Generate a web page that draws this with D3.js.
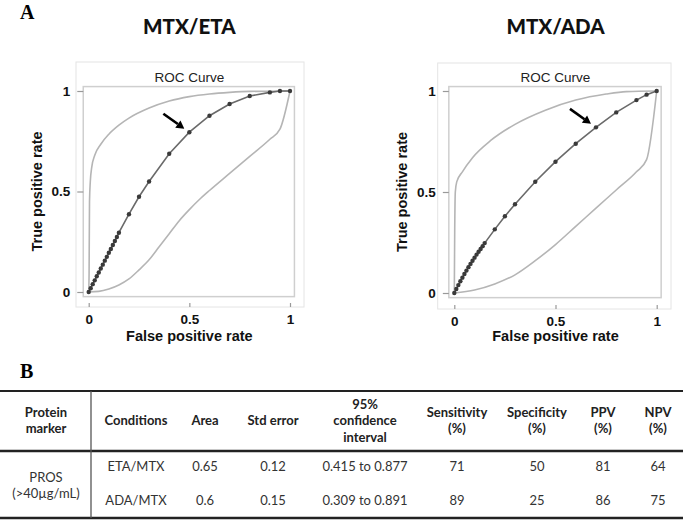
<!DOCTYPE html>
<html><head><meta charset="utf-8">
<script src="https://cdn.jsdelivr.net/npm/d3@7"></script>
<style>body{margin:0;background:#fff}svg{display:block}</style>
</head><body><svg id="c" width="685" height="520"></svg>
<script>
// ---------- DATA ----------
const etaFpr = [0,0.01,0.02,0.03,0.04,0.05,0.06,0.07,0.08,0.09,0.10,0.11,0.12,0.13,0.14,0.15,0.2,0.25,0.3,0.4,0.5,0.6,0.7,0.8,0.9,0.95,1];
const etaTpr = [0,0.019,0.039,0.058,0.078,0.097,0.117,0.136,0.156,0.175,0.195,0.214,0.234,0.254,0.274,0.295,0.387,0.474,0.55,0.688,0.795,0.877,0.935,0.975,0.993,1,1];
const etaUpperX = [0,0.002,0.004,0.008,0.015,0.03,0.06,0.1,0.15,0.2,0.3,0.4,0.5,0.6,0.7,0.8,1];
const etaUpperY = [0,0.1,0.45,0.55,0.62,0.68,0.735,0.785,0.83,0.865,0.915,0.95,0.972,0.985,0.993,0.998,1];
const etaLowerX = [0,0.05,0.1,0.15,0.2,0.25,0.3,0.35,0.4,0.45,0.5,0.55,0.6,0.7,0.8,0.9,0.95,1];
const etaLowerY = [0,0.003,0.015,0.035,0.065,0.11,0.16,0.225,0.29,0.355,0.41,0.46,0.505,0.59,0.675,0.76,0.81,1];
const etaCutoff = 0.5;

const adaFpr = [0,0.01,0.02,0.03,0.04,0.05,0.06,0.07,0.08,0.09,0.10,0.11,0.12,0.13,0.14,0.15,0.2,0.25,0.3,0.4,0.5,0.6,0.7,0.8,0.9,0.95,1];
const adaTpr = [0,0.020,0.039,0.058,0.076,0.094,0.111,0.128,0.144,0.160,0.175,0.190,0.204,0.218,0.232,0.247,0.315,0.38,0.439,0.551,0.65,0.739,0.82,0.894,0.955,0.982,1];
const adaUpperX = [0,0.002,0.005,0.012,0.04,0.09,0.18,0.3,0.45,0.6,0.75,0.85,1];
const adaUpperY = [0,0.3,0.5,0.55,0.6,0.67,0.755,0.835,0.905,0.955,0.985,0.997,1];
const adaLowerX = [0,0.1,0.2,0.3,0.4,0.5,0.6,0.7,0.8,0.9,0.95,1];
const adaLowerY = [0,0.015,0.045,0.09,0.16,0.24,0.33,0.42,0.51,0.6,0.66,1];
const adaCutoff = 0.7;

const axisTicks = [0, 0.5, 1];
const axisTickLabels = ["0", "0.5", "1"];

const headerLines = [["Protein","marker"],["Conditions"],["Area"],["Std error"],["95%","confidence","interval"],["Sensitivity","(%)"],["Specificity","(%)"],["PPV","(%)"],["NPV","(%)"]];
const markerLabel = ["PROS","(>40\u00B5g/mL)"];
const conditions = ["ETA/MTX","ADA/MTX"];
const areaVals = ["0.65","0.6"];
const stdErrVals = ["0.12","0.15"];
const ciVals = ["0.415 to 0.877","0.309 to 0.891"];
const sensVals = ["71","89"];
const specVals = ["50","25"];
const ppvVals = ["81","86"];
const npvVals = ["64","75"];

// ---------- DRAW ----------
const svg = d3.select("#c");
svg.append("rect").attr("width",685).attr("height",520).attr("fill","#fff");

const arial = "Arial, 'Liberation Sans', sans-serif";
const cal = "Lato, 'Open Sans', sans-serif";

svg.append("text").attr("x",20).attr("y",18.5).text("A")
  .attr("font-family","'Liberation Serif', 'Times New Roman', serif").attr("font-weight","bold").attr("font-size",20);

function panel(cfg){
  const x = d3.scaleLinear().domain([0,1]).range(cfg.xr);
  const y = d3.scaleLinear().domain([0,1]).range(cfg.yr);
  const g = svg.append("g");
  const cx = (cfg.xr[0]+cfg.xr[1])/2;
  g.append("text").attr("x",cx).attr("y",34).attr("text-anchor","middle")
    .attr("font-family",cal).attr("font-weight",900).attr("font-size",20.5).attr("fill","#111").text(cfg.title);
  g.append("rect").attr("x",cfg.outer[0]).attr("y",cfg.outer[1]).attr("width",cfg.outer[2]-cfg.outer[0]).attr("height",cfg.outer[3]-cfg.outer[1])
    .attr("fill","none").attr("stroke","#e4e4e4").attr("stroke-width",1);
  g.append("rect").attr("x",x(-0.027)).attr("y",y(1.022)).attr("width",x(1.022)-x(-0.027)).attr("height",y(-0.023)-y(1.022))
    .attr("fill","none").attr("stroke","#cfcfcf").attr("stroke-width",1.5);
  g.append("text").attr("x",cx).attr("y",81.5).attr("text-anchor","middle")
    .attr("font-family",arial).attr("font-size",13.5).attr("fill","#222").text("ROC Curve");
  const fmt = (d,i)=>axisTickLabels[i];
  const ay = g.append("g").attr("transform",`translate(${x(-0.027)},0)`)
    .call(d3.axisLeft(y).tickValues(axisTicks).tickFormat(fmt).tickSize(6).tickPadding(7));
  const ax = g.append("g").attr("transform",`translate(0,${cfg.outer[3]-4})`)
    .call(d3.axisBottom(x).tickValues(axisTicks).tickFormat(fmt).tickSize(4).tickPadding(7));
  [ax,ay].forEach(a=>{
    a.select(".domain").remove();
    a.selectAll("line").attr("stroke","#999").attr("stroke-width",1.2);
    a.selectAll("text").attr("font-family",arial).attr("font-weight","bold").attr("font-size",13.5).attr("fill","#111");
  });
  g.append("text").attr("x",cx).attr("y",341).attr("text-anchor","middle")
    .attr("font-family",arial).attr("font-weight","bold").attr("font-size",14.5).attr("fill","#111").text("False positive rate");
  g.append("text").attr("transform",`translate(${cfg.ytitleX},${y(0.5)}) rotate(-90)`).attr("text-anchor","middle")
    .attr("font-family",arial).attr("font-weight","bold").attr("font-size",14.5).attr("fill","#111").text("True positive rate");
  const band = d3.line().x(d=>x(d[0])).y(d=>y(d[1])).curve(d3.curveMonotoneX);
  g.append("path").attr("d",band(cfg.ux.map((v,i)=>[v,cfg.uy[i]]))).attr("fill","none").attr("stroke","#b5b5b5").attr("stroke-width",1.6);
  g.append("path").attr("d",band(cfg.lx.map((v,i)=>[v,cfg.ly[i]]))).attr("fill","none").attr("stroke","#b5b5b5").attr("stroke-width",1.6);
  const pts = cfg.fpr.map((v,i)=>[v,cfg.tpr[i]]);
  g.append("path").attr("d",d3.line().x(d=>x(d[0])).y(d=>y(d[1]))(pts)).attr("fill","none").attr("stroke","#6a6a6a").attr("stroke-width",1.6);
  g.selectAll("circle.p").data(pts).join("circle").attr("cx",d=>x(d[0])).attr("cy",d=>y(d[1])).attr("r",2.2).attr("fill","#3a3a3a");
  const ci = cfg.fpr.indexOf(cfg.cutoff);
  const hx = x(cfg.fpr[ci]) - 5, hy = y(cfg.tpr[ci]) - 3.5;
  const tx = hx - 21, ty = hy - 15;
  const ang = Math.atan2(hy-ty, hx-tx);
  const L = 8, W = 4.5;
  const bx = hx - L*Math.cos(ang), by = hy - L*Math.sin(ang);
  g.append("line").attr("x1",tx).attr("y1",ty).attr("x2",bx).attr("y2",by).attr("stroke","#000").attr("stroke-width",2.6);
  g.append("path").attr("d",`M${hx},${hy}L${bx - W*Math.sin(ang)},${by + W*Math.cos(ang)}L${bx + W*Math.sin(ang)},${by - W*Math.cos(ang)}Z`).attr("fill","#000");
}

panel({title:"MTX/ETA", xr:[88.7,290], yr:[292,91], outer:[76,62,304,307], ytitleX:42,
  fpr:etaFpr, tpr:etaTpr, ux:etaUpperX, uy:etaUpperY, lx:etaLowerX, ly:etaLowerY, cutoff:etaCutoff});
panel({title:"MTX/ADA", xr:[454.3,656.7], yr:[293,91], outer:[437.7,63,671,309], ytitleX:407,
  fpr:adaFpr, tpr:adaTpr, ux:adaUpperX, uy:adaUpperY, lx:adaLowerX, ly:adaLowerY, cutoff:adaCutoff});

// ---------- TABLE ----------
svg.append("text").attr("x",20).attr("y",378).text("B")
  .attr("font-family","'Liberation Serif', 'Times New Roman', serif").attr("font-weight","bold").attr("font-size",20);

const colX = [46,136,205,273,365,457,537,603,658];
const t = svg.append("g").attr("font-family",cal).attr("font-size",13).attr("fill","#222");
const headMid = 420.5, lh = 16.5;
headerLines.forEach((lines,c)=>{
  const y0 = headMid - (lines.length-1)*lh/2;
  lines.forEach((s,k)=>{
    t.append("text").attr("x",colX[c]).attr("y",y0+k*lh).attr("dy","0.35em").attr("text-anchor","middle")
      .attr("font-weight","bold").text(s);
  });
});
const rowY = [466,500.7];
markerLabel.forEach((s,k)=>{
  t.append("text").attr("x",colX[0]).attr("y",477+k*16.5).attr("dy","0.35em").attr("text-anchor","middle").attr("fill","#333").text(s);
});
const cols = [conditions, areaVals, stdErrVals, ciVals, sensVals, specVals, ppvVals, npvVals];
cols.forEach((vals,c)=>{
  vals.forEach((s,r)=>{
    t.append("text").attr("x",colX[c+1]).attr("y",rowY[r]).attr("dy","0.35em").attr("text-anchor","middle").attr("fill","#333").text(s);
  });
});
svg.append("line").attr("x1",0).attr("x2",683).attr("y1",391).attr("y2",391).attr("stroke","#222").attr("stroke-width",2.2);
svg.append("line").attr("x1",0).attr("x2",683).attr("y1",451).attr("y2",451).attr("stroke","#222").attr("stroke-width",2.4);
svg.append("line").attr("x1",0).attr("x2",683).attr("y1",518).attr("y2",518).attr("stroke","#222").attr("stroke-width",2.4);
svg.append("line").attr("x1",91).attr("x2",91).attr("y1",391).attr("y2",518).attr("stroke","#555").attr("stroke-width",1.3);
</script></body></html>
